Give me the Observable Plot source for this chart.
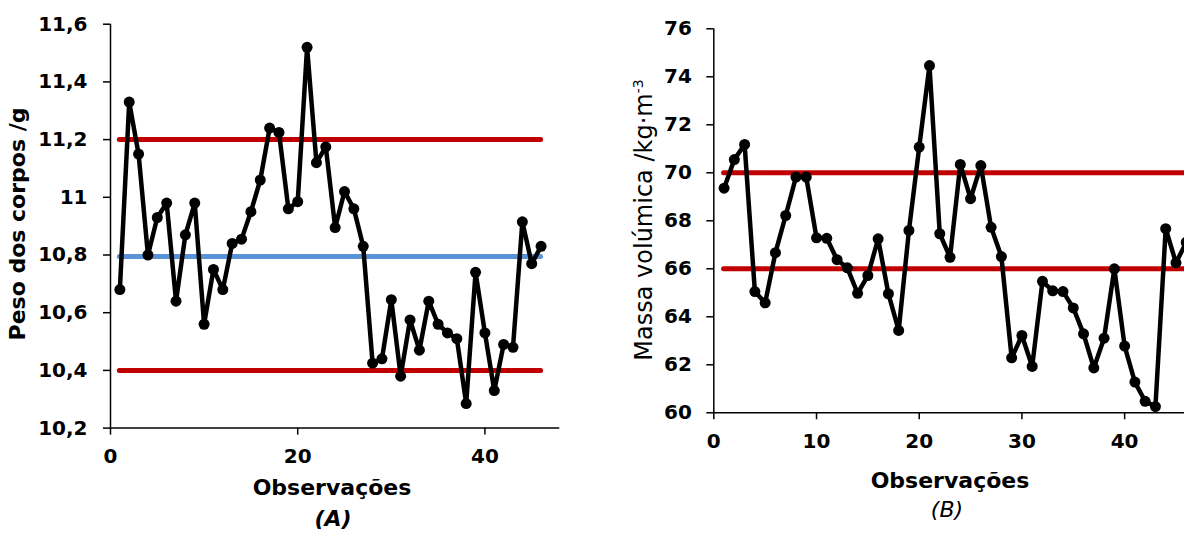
<!DOCTYPE html>
<html>
<head>
<meta charset="utf-8">
<script src="https://cdn.jsdelivr.net/npm/d3@7"></script>
<script src="https://cdn.jsdelivr.net/npm/@observablehq/plot@0.6"></script>
<style>
  html, body { margin: 0; padding: 0; background: #fff; }
  #wrap { position: relative; width: 1184px; height: 535px; overflow: hidden; background: #fff; font-family: "DejaVu Sans", sans-serif; color: #000; }
  .panel { position: absolute; top: 0; width: 700px; }
  .panel svg { max-width: none !important; }
  .lbl { position: absolute; white-space: nowrap; line-height: 1; }
  .rot { transform: translate(-50%, -50%) rotate(-90deg); }
  .ctr { transform: translate(-50%, 0); }
</style>
</head>
<body>
<div id="wrap">
  <div id="panelA" class="panel" style="left:0px"></div>
  <div id="panelB" class="panel" style="left:600px"></div>
  <div class="lbl rot" style="left:18px; top:224px; font-size:22px; font-weight:bold;">Peso dos corpos /g</div>
  <div class="lbl rot" style="left:643px; top:220px; font-size:24px;">Massa volúmica /kg·m<sup style="font-size:14px; vertical-align:9px;">-3</sup></div>
  <div class="lbl ctr" style="left:332px; top:477px; font-size:22px; font-weight:bold;">Observações</div>
  <div class="lbl ctr" style="left:333px; top:508px; font-size:22px; font-weight:bold; font-style:italic;">(A)</div>
  <div class="lbl ctr" style="left:950px; top:470px; font-size:22px; font-weight:bold;">Observações</div>
  <div class="lbl ctr" style="left:947px; top:499px; font-size:22px; font-style:italic;">(B)</div>
</div>
<script>
// ---- Data ----
const obs = [1,2,3,4,5,6,7,8,9,10,11,12,13,14,15,16,17,18,19,20,21,22,23,24,25,26,27,28,29,30,31,32,33,34,35,36,37,38,39,40,41,42,43,44,45,46];

const pesoA = [10.68, 11.33, 11.15, 10.80, 10.93, 10.98, 10.64, 10.87, 10.98, 10.56,
               10.75, 10.68, 10.84, 10.855, 10.95, 11.06, 11.24, 11.225, 10.96, 10.985,
               11.52, 11.12, 11.175, 10.895, 11.02, 10.96, 10.83, 10.425, 10.44, 10.645,
               10.38, 10.575, 10.47, 10.64, 10.56, 10.53, 10.51, 10.285, 10.74, 10.53,
               10.33, 10.49, 10.48, 10.915, 10.77, 10.83];

const massaB = [69.36, 70.55, 71.18, 65.05, 64.58, 66.67, 68.22, 69.82, 69.82, 67.29,
                67.27, 66.38, 66.04, 64.98, 65.72, 67.25, 64.96, 63.43, 67.60, 71.07,
                74.47, 67.46, 66.48, 70.35, 68.92, 70.30, 67.73, 66.51, 62.29, 63.22,
                61.93, 65.48, 65.08, 65.05, 64.37, 63.29, 61.87, 63.11, 66.00, 62.78,
                61.28, 60.48, 60.26, 67.67, 66.25, 67.10];

const limitsA = [10.4, 11.2];   // red control limits (A)
const centerA = [10.795];       // blue centre line (A)
const limitsB = [66, 70];       // red limits (B)

const xTicksA = [0, 20, 40];
const yTicksA = [10.2, 10.4, 10.6, 10.8, 11.0, 11.2, 11.4, 11.6];
const xTicksB = [0, 10, 20, 30, 40];
const yTicksB = [60, 62, 64, 66, 68, 70, 72, 74, 76];

// ---- Build ----
const dataA = obs.map((o, i) => ({obs: o, v: pesoA[i]}));
const dataB = obs.map((o, i) => ({obs: o, v: massaB[i]}));
const firstObs = obs[0], lastObs = obs[obs.length - 1];
const fmtComma = d => String(+d.toFixed(1)).replace(".", ",");

const baseStyle = {fontFamily: "DejaVu Sans", fontSize: "20px", fontWeight: "bold", color: "black", background: "transparent", overflow: "visible", maxWidth: "none"};

const chartA = Plot.plot({
  width: 600, height: 470,
  marginLeft: 110, marginRight: 40.7, marginTop: 23.7, marginBottom: 42.4,
  style: baseStyle,
  x: {domain: [0, 48]},
  y: {domain: [10.2, 11.6]},
  marks: [
    Plot.ruleY(limitsA, {y: d => d, x1: firstObs, x2: lastObs, stroke: "#C00000", strokeWidth: 5, strokeLinecap: "round"}),
    Plot.ruleY(centerA, {y: d => d, x1: firstObs, x2: lastObs, stroke: "#5B93D8", strokeWidth: 5, strokeLinecap: "round"}),
    Plot.axisY({ticks: yTicksA, tickSize: 7, tickPadding: 16, tickFormat: fmtComma, label: null, strokeWidth: 1.5}),
    Plot.axisX({ticks: xTicksA, tickSize: 7, tickPadding: 14, label: null, strokeWidth: 1.5}),
    Plot.ruleX([0], {strokeWidth: 1.5}),
    Plot.ruleY([10.2], {strokeWidth: 1.5}),
    Plot.line(dataA, {x: "obs", y: "v", stroke: "black", strokeWidth: 4.5, strokeLinejoin: "round"}),
    Plot.dot(dataA, {x: "obs", y: "v", r: 5.5, fill: "black", stroke: "none"})
  ]
});
document.getElementById("panelA").appendChild(chartA);

const chartB = Plot.plot({
  width: 646.3, height: 460,
  marginLeft: 113.3, marginRight: 40, marginTop: 28.3, marginBottom: 47.7,
  style: baseStyle,
  x: {domain: [0, 48]},
  y: {domain: [60, 76]},
  marks: [
    Plot.ruleY(limitsB, {y: d => d, x1: firstObs, x2: 48, stroke: "#C00000", strokeWidth: 5, strokeLinecap: "round"}),
    Plot.axisY({ticks: yTicksB, tickSize: 7, tickPadding: 15, label: null, strokeWidth: 1.5}),
    Plot.axisX({ticks: xTicksB, tickSize: 7, tickPadding: 14, label: null, strokeWidth: 1.5}),
    Plot.ruleX([0], {strokeWidth: 1.5}),
    Plot.ruleY([60], {strokeWidth: 1.5}),
    Plot.line(dataB, {x: "obs", y: "v", stroke: "black", strokeWidth: 4.5, strokeLinejoin: "round"}),
    Plot.dot(dataB, {x: "obs", y: "v", r: 5.5, fill: "black", stroke: "none"})
  ]
});
document.getElementById("panelB").appendChild(chartB);
</script>
</body>
</html>
